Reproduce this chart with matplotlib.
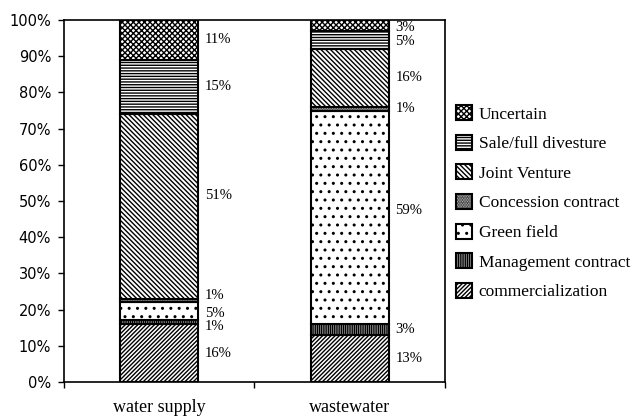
import numpy as np
import matplotlib.pyplot as plt
import matplotlib as mpl

mpl.rcParams['hatch.linewidth'] = 1.0

categories = ['water supply', 'wastewater']
segments = ['commercialization', 'Management contract', 'Green field',
            'Concession contract', 'Joint Venture', 'Sale/full divesture', 'Uncertain']
water_supply = [16, 1, 5, 1, 51, 15, 11]
wastewater = [13, 3, 59, 1, 16, 5, 3]
hatches = ['////////', '|||||||||', '..', '..........', '\\\\\\\\\\\\\\', '------', 'xxxxxx']
yticks = [0, 10, 20, 30, 40, 50, 60, 70, 80, 90, 100]

serif = 'Liberation Serif'

# small vertical shifts (in %) so the thin-segment labels don't collide
nudge = {(0, 1): -1.2, (0, 2): -0.5, (0, 3): 1.4, (0, 4): 3,
         (1, 2): 2, (1, 5): -0.5, (1, 6): -0.6}

fig = plt.figure(figsize=(6.41, 4.17), dpi=100)
ax = fig.add_axes([0.0998, 0.084, 0.5944, 0.868])

x = np.array([0.5, 1.5])
data = np.array([water_supply, wastewater])
bottom = np.zeros(2)
handles = []
for i, name in enumerate(segments):
    vals = data[:, i]
    b = ax.bar(x, vals, 0.41, bottom=bottom, color='white', edgecolor='black',
               linewidth=1.5, hatch=hatches[i], label=name)
    handles.append(b)
    for j, (xi, v, bt) in enumerate(zip(x, vals, bottom)):
        ax.text(xi + 0.24, bt + v / 2 + nudge.get((j, i), 0), f'{v}%',
                va='center', ha='left', fontsize=10.5, family=serif)
    bottom += vals

ax.set_xlim(0, 2)
ax.set_ylim(0, 100)
ax.set_yticks(yticks)
ax.set_yticklabels([f'{t}%' for t in yticks], fontsize=10.5)
ax.set_xticks([0, 1, 2])
ax.set_xticklabels([])
ax.set_xticks(x, minor=True)
ax.set_xticklabels(categories, minor=True, fontsize=13, family=serif)
ax.tick_params(axis='x', which='minor', length=0, pad=12)
ax.tick_params(axis='both', which='major', length=4.3, width=1)
ax.tick_params(axis='y', pad=5)
for s in ax.spines.values():
    s.set_linewidth(1.2)

leg = fig.legend(handles[::-1], segments[::-1], loc='center left',
                 bbox_to_anchor=(0.687, 0.514), frameon=False,
                 prop={'family': serif, 'size': 12.5}, handlelength=0.95,
                 handleheight=0.95, handletextpad=0.35, labelspacing=0.7)

fig.savefig('out.png', dpi=100)
